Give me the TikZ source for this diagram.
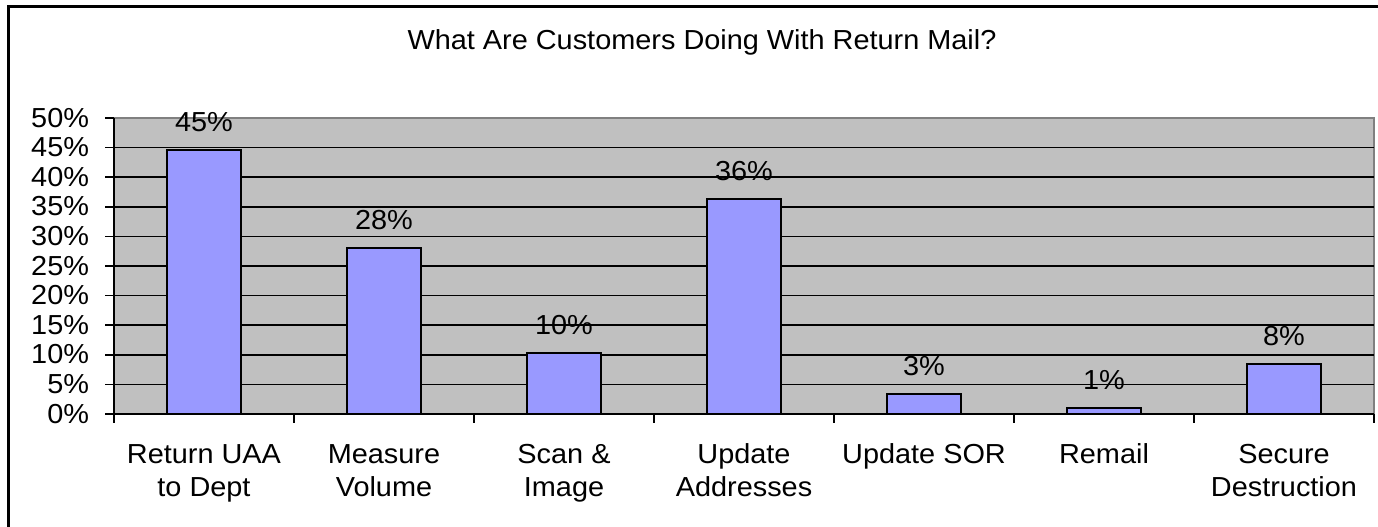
\documentclass[tikz,border=0pt]{standalone}
\usepackage{fontspec}
\setmainfont{Liberation Sans}[FakeStretch=1.05]
\definecolor{plotgray}{RGB}{192,192,192}
\definecolor{barblue}{RGB}{153,153,255}
\definecolor{edgegray}{RGB}{128,128,128}
\begin{document}
\begin{tikzpicture}[x=1pt,y=-1pt,
  lbl/.style={font=\fontsize{27.5}{32}\selectfont, inner sep=0pt, outer sep=0pt},
  bar/.style={fill=barblue, draw=black, line width=2pt},
  gridline/.style={black, line width=1.6pt},
  axisline/.style={black, line width=2pt}]
\useasboundingbox (0,0) rectangle (1378,527);
\begin{scope}
  \clip (0,0) rectangle (1378,527);
  \draw[line width=3pt] (8,7) rectangle (1400,545);
\end{scope}
% title
\node[lbl, anchor=base] (title) at (702,50) {What Are Customers Doing With Return Mail?};
% plot area
\fill[plotgray] (114,118) rectangle (1374,414);
\draw[edgegray, line width=2pt] (114,118) -- (1374,118) -- (1374,414);
\foreach \k in {1,...,9} {
  \draw[gridline] (105,{414-\k*29.6}) -- (1374,{414-\k*29.6});
}
% value axis ticks and labels
\draw[axisline] (105,118) -- (114,118);
\foreach \k in {0,...,10} {
  \pgfmathtruncatemacro{\p}{5*\k}
  \node[lbl, anchor=base east] (ylab\k) at (89,{414-\k*29.6+9}) {\p\%};
}
% bars
\foreach \v/\t [count=\i] in {44.6/45,28.0/28,10.3/10,36.3/36,3.3/3,1.0/1,8.4/8} {
  \draw[bar] ({24+180*\i-37},414) rectangle ({24+180*\i+37},{414-5.92*\v});
  \node[lbl, anchor=base] (val\i) at ({24+180*\i},{414-5.92*\v-18.5}) {\t\%};
}
% axes
\draw[axisline] (114,118) -- (114,423);
\draw[axisline] (105,414) -- (1374,414);
\foreach \k in {1,...,7} {
  \draw[axisline] ({114+180*\k},414) -- ({114+180*\k},423);
}
% category labels
\node[lbl, anchor=base] (c1a) at (204,463) {Return UAA};
\node[lbl, anchor=base] (c1b) at (204,496) {to Dept};
\node[lbl, anchor=base] (c2a) at (384,463) {Measure};
\node[lbl, anchor=base] (c2b) at (384,496) {Volume};
\node[lbl, anchor=base] (c3a) at (564,463) {Scan \&};
\node[lbl, anchor=base] (c3b) at (564,496) {Image};
\node[lbl, anchor=base] (c4a) at (744,463) {Update};
\node[lbl, anchor=base] (c4b) at (744,496) {Addresses};
\node[lbl, anchor=base] (c5a) at (924,463) {Update SOR};
\node[lbl, anchor=base] (c6a) at (1104,463) {Remail};
\node[lbl, anchor=base] (c7a) at (1284,463) {Secure};
\node[lbl, anchor=base] (c7b) at (1284,496) {Destruction};
\end{tikzpicture}
\end{document}
